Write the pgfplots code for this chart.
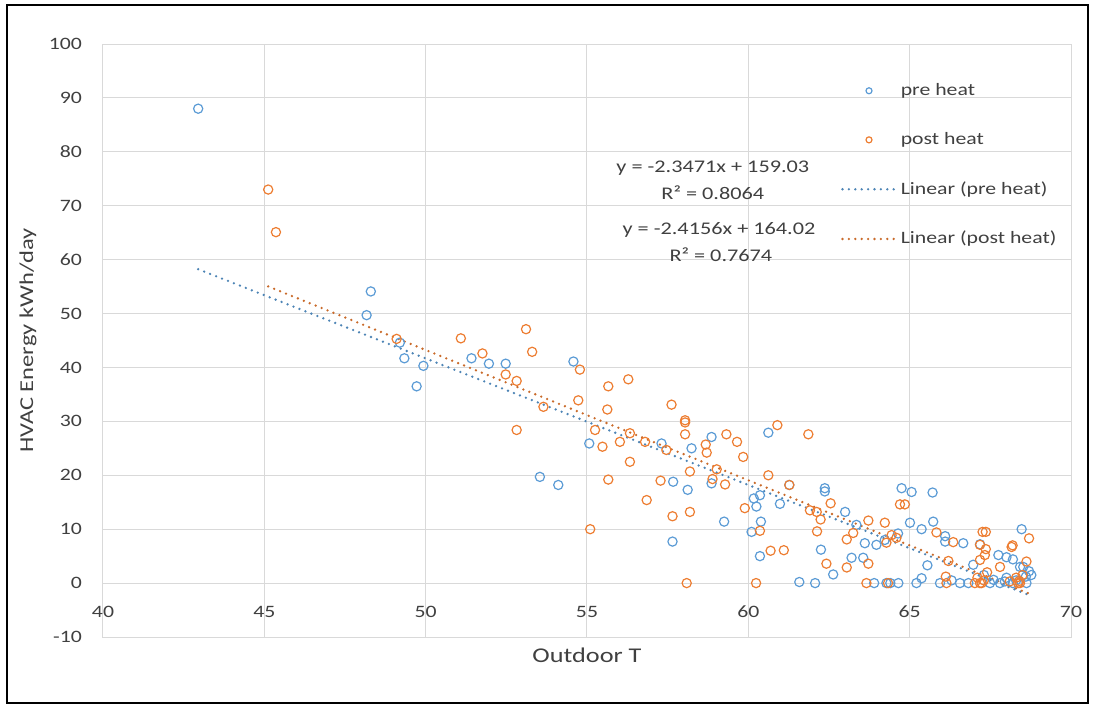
\documentclass[border=0pt]{standalone}
\usepackage{fontspec}
\setmainfont{Carlito}[FakeStretch=1.25]
\usepackage{pgfplots}
\pgfplotsset{compat=1.18}
\definecolor{xlblue}{RGB}{91,155,213}
\definecolor{xlorange}{RGB}{237,125,49}
\definecolor{gridgray}{RGB}{217,217,217}
\definecolor{txtgray}{RGB}{64,64,64}
\begin{document}
\begin{tikzpicture}
\path[use as bounding box] (-51.5pt,-36pt) rectangle (495.5pt,318.5pt);
\begin{axis}[
  scale only axis, width=484pt, height=296.5pt,
  at={(0pt,0pt)}, anchor=south west,
  xmin=40, xmax=70, ymin=-10, ymax=100,
  xtick={40,45,...,70}, ytick={-10,0,...,100},
  grid=major, major grid style={draw=gridgray, line width=0.5pt},
  axis line style={draw=gridgray, line width=0.5pt},
  major tick length=0pt,
  /pgf/number format/assume math mode=true,
  tick label style={font=\fontsize{8.7}{10}\selectfont, text=txtgray},
  xticklabel style={anchor=center, yshift=12.5pt},
  yticklabel style={anchor=east, xshift=-7pt},
  xlabel={Outdoor T}, ylabel={HVAC Energy kWh/day},
  every axis x label/.style={at={(axis description cs:0.5,0)}, anchor=center, yshift=-9pt, font=\fontsize{10.5}{12}\selectfont, text=txtgray},
  every axis y label/.style={at={(axis description cs:-0.0775,0.5)}, rotate=90, anchor=center, font=\fontsize{9.8}{12}\selectfont, text=txtgray},
  legend style={at={(0.756,0.948)}, anchor=north west, draw=none, fill=none,
    font=\fontsize{8.7}{10}\selectfont, text=txtgray, row sep=13pt},
  legend cell align=left,
  legend image code/.code={\draw[mark repeat=2,mark phase=2,#1] plot coordinates {(0pt,0pt) (13.25pt,0pt) (26.5pt,0pt)};},
  clip=false,
]
\addplot[only marks, mark=o, mark size=2.3pt, xlblue, mark options={line width=0.6pt}, legend image post style={mark size=1.5pt}] table {
x y
42.95 88.0
48.30 54.1
48.17 49.7
49.20 44.6
49.34 41.7
49.93 40.3
49.72 36.5
51.42 41.7
51.96 40.7
52.48 40.7
53.54 19.7
54.11 18.2
54.58 41.1
55.07 25.9
57.31 25.9
57.67 18.8
57.65 7.7
58.12 17.3
58.24 25.0
58.86 27.1
58.86 18.5
59.25 11.4
60.62 27.9
60.36 16.3
60.17 15.7
60.25 14.2
60.98 14.7
61.27 18.2
62.37 17.6
62.37 17.0
60.39 11.4
60.10 9.5
60.36 5.0
62.25 6.2
62.63 1.6
61.58 0.2
62.07 0.0
63.00 13.2
63.35 10.8
63.61 7.4
63.97 7.1
63.20 4.7
63.56 4.7
63.90 0.0
64.40 0.0
64.75 17.6
65.06 16.9
65.71 16.8
65.01 11.2
65.73 11.4
65.37 10.0
64.64 9.2
64.23 8.0
66.10 8.7
66.10 7.7
66.66 7.4
67.18 7.2
68.47 10.0
67.75 5.2
68.00 4.8
68.20 4.4
68.42 3.0
68.52 3.0
68.77 1.5
65.55 3.3
65.37 0.9
64.28 0.0
64.65 0.0
65.21 0.0
65.94 0.0
66.56 0.0
66.82 0.0
67.49 0.0
67.80 0.0
68.20 0.0
68.62 0.0
66.97 3.4
68.00 1.0
68.30 0.5
68.60 1.2
68.70 2.2
67.95 0.3
67.30 1.5
67.60 0.6
66.30 0.5
};
\addlegendentry{pre heat}
\addplot[only marks, mark=o, mark size=2.3pt, xlorange, mark options={line width=0.6pt}, legend image post style={mark size=1.5pt}] table {
x y
45.12 73.0
45.36 65.1
49.10 45.3
51.09 45.4
53.11 47.1
53.30 42.9
51.76 42.6
52.48 38.7
52.82 37.5
53.65 32.7
52.82 28.4
54.78 39.6
54.73 33.9
55.66 36.5
56.28 37.8
55.63 32.2
57.62 33.1
58.04 30.2
58.04 29.8
58.04 27.6
59.32 27.6
59.65 26.2
59.84 23.4
58.68 25.7
58.71 24.2
58.19 20.7
58.89 19.3
59.28 18.3
59.02 21.1
59.89 13.9
58.19 13.2
57.65 12.4
58.09 0.0
55.10 10.0
55.48 25.3
55.25 28.4
56.33 22.5
56.02 26.2
56.33 27.8
56.80 26.2
57.46 24.7
55.66 19.2
56.85 15.4
57.28 19.0
60.90 29.3
61.86 27.6
60.62 20.0
61.27 18.2
62.55 14.8
61.91 13.5
62.12 13.2
62.13 9.6
62.24 11.8
60.36 9.7
60.69 6.0
61.10 6.1
62.42 3.6
60.24 0.0
63.72 11.6
64.23 11.2
63.25 9.3
63.05 8.1
64.44 8.9
64.59 8.4
64.28 7.5
63.05 2.9
63.72 3.6
63.66 0.0
64.33 0.0
64.70 14.6
64.85 14.6
65.83 9.4
66.35 7.6
67.26 9.5
67.36 9.5
67.18 7.1
67.36 6.3
68.19 7.0
68.70 8.3
68.16 6.7
67.18 4.3
67.33 5.2
67.80 3.0
68.62 4.0
66.12 1.2
66.14 0.0
67.02 0.0
67.18 0.0
67.23 0.0
68.36 0.0
68.42 0.0
66.20 4.1
67.10 1.0
67.30 0.5
67.40 2.0
68.30 1.0
68.50 1.5
68.40 0.4
68.10 0.3
};
\addlegendentry{post heat}
\addplot[xlblue!85!black, line width=1.3pt, dash pattern=on 0pt off 3.2pt, line cap=round] coordinates {(42.95,58.22) (68.8,-2.45)};
\addlegendentry{Linear (pre heat)}
\addplot[xlorange!85!black, line width=1.3pt, dash pattern=on 0pt off 3.2pt, line cap=round] coordinates {(45.12,55.03) (68.8,-2.19)};
\addlegendentry{Linear (post heat)}
\node[font=\fontsize{8.9}{10}\selectfont, text=txtgray] at (axis cs:58.90,77.0) {y = -2.3471x + 159.03};
\node[font=\fontsize{8.9}{10}\selectfont, text=txtgray] at (axis cs:58.90,72.4) {R² = 0.8064};
\node[font=\fontsize{8.9}{10}\selectfont, text=txtgray] at (axis cs:59.09,65.5) {y = -2.4156x + 164.02};
\node[font=\fontsize{8.9}{10}\selectfont, text=txtgray] at (axis cs:59.15,60.85) {R² = 0.7674};
\end{axis}
\draw[line width=0.9pt] (-48pt,-33pt) rectangle (492.5pt,316pt);
\end{tikzpicture}
\end{document}
